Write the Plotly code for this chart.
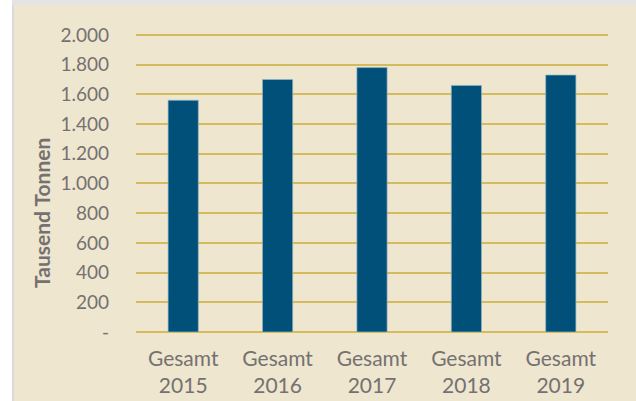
import plotly.graph_objects as go

# Jahreswerte (Tausend Tonnen)
categories = ["Gesamt<br>2015", "Gesamt<br>2016", "Gesamt<br>2017", "Gesamt<br>2018", "Gesamt<br>2019"]
values = [1560, 1700, 1780, 1660, 1730]

# Y-Achse im deutschen Zahlenformat
y_tick_values = [0, 200, 400, 600, 800, 1000, 1200, 1400, 1600, 1800, 2000]
y_tick_labels = ["-", "200", "400", "600", "800", "1.000", "1.200", "1.400", "1.600", "1.800", "2.000"]

BG = "#EEE6CF"
GRID = "#D4BC5E"
BAR = "#00507A"
TEXT = "#757171"
FONT = "Lato"

W, H = 636, 401
L, R, T, B = 136, 28, 29, 69
Y_MAX = 2040

fig = go.Figure(
    go.Bar(
        x=categories,
        y=values,
        width=0.32,
        marker=dict(color=BAR, line=dict(color="rgba(150,180,195,0.7)", width=1)),
        hoverinfo="skip",
    )
)

# pixel -> paper helpers for the frame decoration
pw, ph = W - L - R, H - T - B
def px_x(px):
    return (px - L) / pw
def px_y(py):
    return (H - B - py) / ph

fig.update_layout(
    width=W,
    height=H,
    margin=dict(l=L, r=R, t=T, b=B, pad=0, autoexpand=False),
    paper_bgcolor=BG,
    plot_bgcolor=BG,
    showlegend=False,
    font=dict(family=FONT, color=TEXT, size=18),
    xaxis=dict(
        showgrid=False,
        showline=False,
        ticks="",
        automargin=False,
        ticklabelstandoff=12,
        tickfont=dict(size=21, color=TEXT, family=FONT),
        fixedrange=True,
    ),
    yaxis=dict(
        range=[0, Y_MAX],
        tickvals=y_tick_values,
        ticktext=y_tick_labels,
        showgrid=True,
        gridcolor=GRID,
        gridwidth=2,
        zeroline=True,
        zerolinecolor=GRID,
        zerolinewidth=2,
        showline=False,
        ticks="",
        automargin=False,
        ticklabelstandoff=26,
        tickfont=dict(size=19, color=TEXT, family=FONT),
        fixedrange=True,
    ),
    shapes=[
        # white strip on the left edge
        dict(type="rect", xref="paper", yref="paper",
             x0=px_x(0), x1=px_x(12), y0=px_y(H), y1=px_y(0),
             fillcolor="white", line=dict(width=0), layer="below"),
        # light frame line left
        dict(type="rect", xref="paper", yref="paper",
             x0=px_x(12), x1=px_x(14), y0=px_y(H), y1=px_y(0),
             fillcolor="#D9D9E0", line=dict(width=0), layer="below"),
        # light band on top
        dict(type="rect", xref="paper", yref="paper",
             x0=px_x(12), x1=px_x(W), y0=px_y(5), y1=px_y(0),
             fillcolor="#E4E4E4", line=dict(width=0), layer="below"),
    ],
    annotations=[
        dict(
            text="<b>Tausend Tonnen</b>",
            xref="paper", yref="paper",
            x=px_x(41), y=px_y(213),
            xanchor="center", yanchor="middle",
            textangle=-90,
            showarrow=False,
            font=dict(size=21, color=TEXT, family=FONT),
        )
    ],
)

fig.write_html("out.html")
